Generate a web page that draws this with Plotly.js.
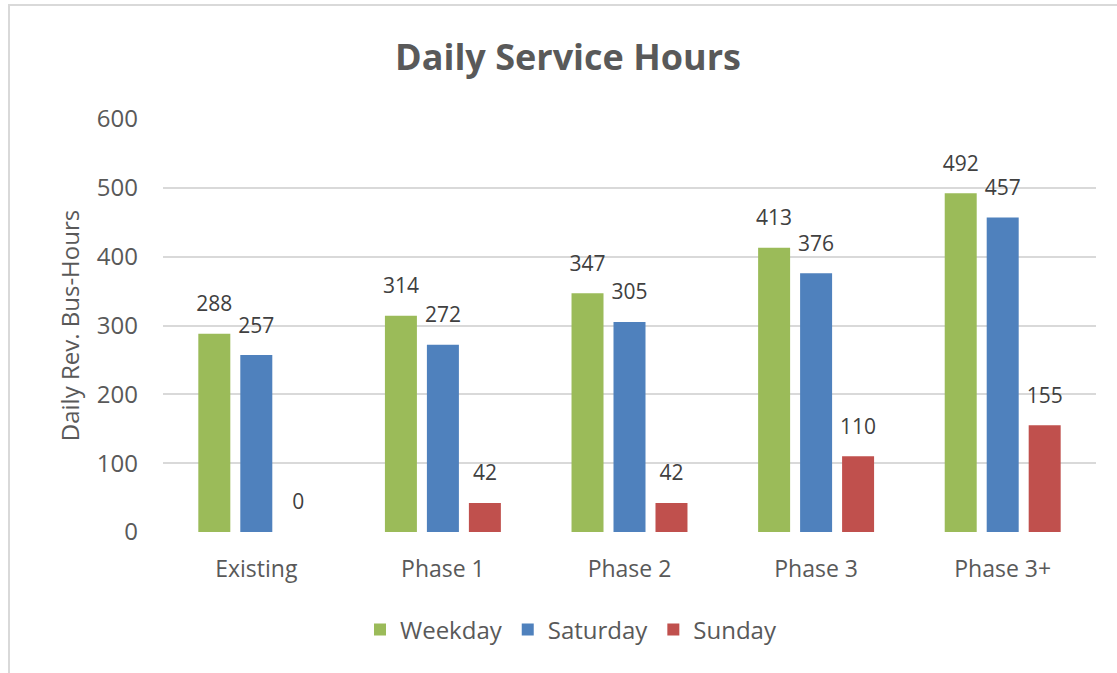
<!DOCTYPE html>
<html>
<head>
<meta charset="utf-8">
<script src="https://cdn.plot.ly/plotly-3.0.1.min.js"></script>
<style>
  html, body { margin: 0; padding: 0; background: #ffffff; }
  #wrap { position: relative; width: 1117px; height: 673px; overflow: hidden; }
  #chart { position: absolute; left: 0; top: 0; width: 1117px; height: 673px; }
  #frame { position: absolute; left: 8px; top: 4px; width: 1200px; height: 800px;
           border-left: 2px solid #D9D9D9; border-top: 2px solid #D9D9D9; pointer-events: none; }
</style>
</head>
<body>
<div id="wrap">
  <div id="chart"></div>
  <div id="frame"></div>
</div>
<script>
const categories = ["Existing", "Phase 1", "Phase 2", "Phase 3", "Phase 3+"];
const weekday = [288, 314, 347, 413, 492];
const saturday = [257, 272, 305, 376, 457];
const sunday = [0, 42, 42, 110, 155];
const yTicks = [0, 100, 200, 300, 400, 500, 600];

const textColor = "#595959";
const fontFam = "'Open Sans', 'Noto Sans', sans-serif";

function barTrace(name, vals, color) {
  return {
    type: "bar",
    name: name,
    x: categories,
    y: vals,
    text: vals.map(String),
    texttemplate: "<span style='font-size:21px'>%{text}</span><br> ",
    textposition: "outside",
    constraintext: "none",
    cliponaxis: false,
    textfont: { family: fontFam, size: 12, color: "#404040" },
    marker: { color: color },
    hoverinfo: "x+y"
  };
}

const data = [
  barTrace("Weekday", weekday, "#9BBB59"),
  barTrace("Saturday", saturday, "#4F81BD"),
  barTrace("Sunday", sunday, "#C0504D")
];

const layout = {
  width: 1117,
  height: 673,
  paper_bgcolor: "rgba(0,0,0,0)",
  plot_bgcolor: "rgba(0,0,0,0)",
  margin: { l: 163, r: 21, t: 119, b: 141 },
  barmode: "group",
  bargap: 0.325,
  bargroupgap: 0.238,
  font: { family: fontFam, color: textColor },
  title: {
    text: "<b>Daily Service Hours</b>",
    font: { family: fontFam, size: 36, color: textColor },
    xref: "container",
    x: 0.5085,
    xanchor: "center",
    yref: "container",
    y: 1 - 57 / 673,
    yanchor: "middle"
  },
  xaxis: {
    type: "category",
    showgrid: false,
    showline: false,
    zeroline: false,
    ticks: "",
    ticklabelstandoff: 21,
    tickfont: { family: fontFam, size: 23, color: textColor }
  },
  yaxis: {
    range: [0, 600],
    tickvals: yTicks,
    ticktext: yTicks.map(String),
    showgrid: true,
    gridcolor: "#D9D9D9",
    gridwidth: 2,
    zeroline: false,
    showline: false,
    ticks: "",
    ticklabelstandoff: 24,
    tickfont: { family: fontFam, size: 24, color: textColor },
    title: {
      text: "Daily Rev. Bus-Hours",
      font: { family: fontFam, size: 24, color: textColor },
      standoff: 10
    },
    automargin: false
  },
  showlegend: true,
  legend: {
    orientation: "h",
    x: (571 - 163) / 933,
    xanchor: "center",
    y: -0.237,
    yanchor: "middle",
    font: { family: fontFam, size: 24, color: textColor },
    traceorder: "normal"
  }
};

Plotly.newPlot("chart", data, layout, { displayModeBar: false, staticPlot: true });
</script>
</body>
</html>
